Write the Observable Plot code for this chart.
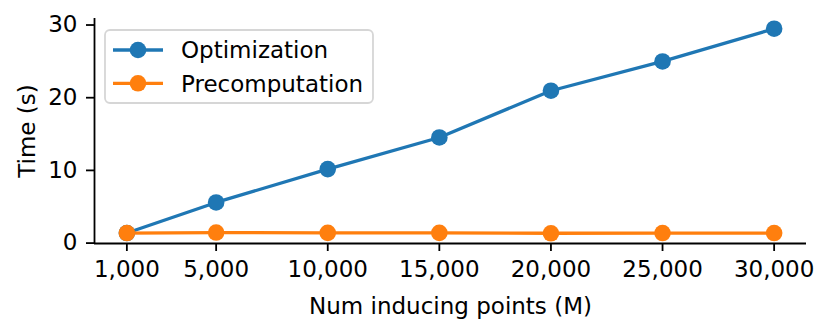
<!DOCTYPE html>
<html>
<head>
<meta charset="utf-8">
<script src="https://cdn.jsdelivr.net/npm/d3@7"></script>
<script src="https://cdn.jsdelivr.net/npm/@observablehq/plot@0.6"></script>
<style>
  html, body { margin: 0; padding: 0; background: #fff; }
  #chart { position: relative; width: 831px; height: 331px; }
</style>
</head>
<body>
<div id="chart"></div>
<script>
// ---- data ----
const inducingPoints = [1000, 5000, 10000, 15000, 20000, 25000, 30000];
const optimization = [1.38, 5.59, 10.18, 14.53, 20.96, 24.99, 29.49];
const precomputation = [1.38, 1.45, 1.40, 1.40, 1.35, 1.38, 1.38];
const seriesNames = ["Optimization", "Precomputation"];
const seriesColors = ["#1f77b4", "#ff7f0e"];
const yTicks = [0, 10, 20, 30];
const xLabel = "Num inducing points (M)";
const yLabel = "Time (s)";

// ---- table ----
const rows = [];
[optimization, precomputation].forEach((vals, si) => {
  vals.forEach((v, i) => rows.push({series: seriesNames[si], x: inducingPoints[i], y: v}));
});

function padDomain(vals) {
  const lo = d3.min(vals), hi = d3.max(vals), p = (hi - lo) * 0.05;
  return [lo - p, hi + p];
}
const xDomain = padDomain(inducingPoints);
const yDomain = padDomain(optimization.concat(precomputation));

const FONT = "'DejaVu Sans', sans-serif";
const FS = 23;
const plot = Plot.plot({
  width: 831,
  height: 331,
  marginLeft: 94,
  marginRight: 25,
  marginTop: 18,
  marginBottom: 88,
  style: {fontFamily: FONT, fontSize: FS + "px", color: "#000", background: "#fff"},
  x: {domain: xDomain},
  y: {domain: yDomain},
  color: {domain: seriesNames, range: seriesColors},
  marks: [
    Plot.axisX({ticks: inducingPoints, tickFormat: d3.format(","), tickSize: 8, tickPadding: 9,
      strokeWidth: 1.8, fontSize: FS, label: xLabel, labelAnchor: "center", labelArrow: "none", labelOffset: 70}),
    Plot.axisY({ticks: yTicks, tickSize: 8, tickPadding: 9, strokeWidth: 1.8, fontSize: FS,
      label: yLabel, labelAnchor: "center", labelArrow: "none", labelOffset: 76}),
    Plot.ruleX([xDomain[0]], {stroke: "#000", strokeWidth: 1.8}),
    Plot.ruleY([yDomain[0]], {stroke: "#000", strokeWidth: 1.8}),
    Plot.line(rows, {x: "x", y: "y", z: "series", stroke: "series", strokeWidth: 3.3}),
    Plot.dot(rows, {x: "x", y: "y", fill: "series", r: 8.3, stroke: "none"})
  ]
});
document.getElementById("chart").appendChild(plot);

// ---- legend (inside the plot area) ----
const svg = d3.select(plot);
const lg = svg.append("g").attr("text-anchor", "start");
lg.append("rect").attr("x", 105).attr("y", 30).attr("width", 268).attr("height", 73)
  .attr("rx", 5).attr("fill", "#fff").attr("fill-opacity", 0.8)
  .attr("stroke", "#d6d6d6").attr("stroke-width", 1.8);
seriesNames.forEach((name, i) => {
  const cy = 50 + i * 33.3;
  lg.append("line").attr("x1", 113).attr("x2", 163).attr("y1", cy).attr("y2", cy)
    .attr("stroke", seriesColors[i]).attr("stroke-width", 3.3);
  lg.append("circle").attr("cx", 138).attr("cy", cy).attr("r", 8.3).attr("fill", seriesColors[i]);
  lg.append("text").attr("x", 181).attr("y", cy).attr("dy", "0.36em")
    .style("text-anchor", "start")
    .attr("font-family", FONT).attr("font-size", FS).attr("fill", "#000").text(name);
});
</script>
</body>
</html>
